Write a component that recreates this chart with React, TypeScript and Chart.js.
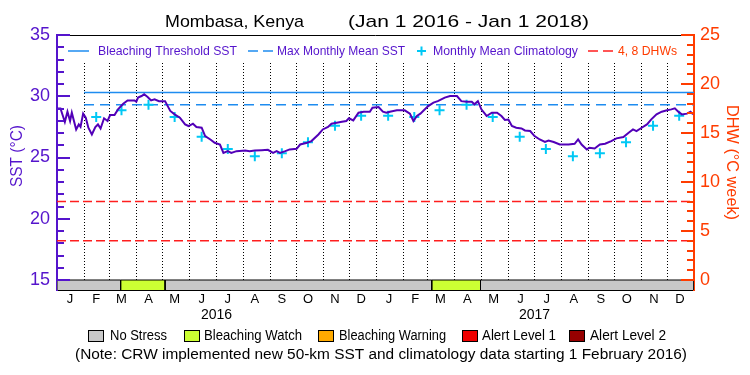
import React, { useEffect, useRef } from "react";
import { Chart, registerables } from "chart.js";

Chart.register(...registerables);

// ---------------- data ----------------
const titleLeft = "Mombasa, Kenya";
const titleRight = "(Jan 1 2016 - Jan 1 2018)";

const monthLabels = ["J", "F", "M", "A", "M", "J", "J", "A", "S", "O", "N", "D", "J", "F", "M", "A", "M", "J", "J", "A", "S", "O", "N", "D"];
const monthMidDays = [15, 45, 74, 105, 135, 166, 196, 227, 258, 288, 319, 349, 381, 411, 440, 471, 501, 532, 562, 593, 624, 654, 685, 715];
const monthStartDays = [0, 31, 60, 91, 121, 152, 182, 213, 244, 274, 305, 335, 366, 397, 425, 456, 486, 517, 547, 578, 609, 639, 670, 700, 731];
const yearLabels = ["2016", "2017"];
const yearMidDays = [183, 548];

// daily SST (days since Jan 1 2016)
const sstDays = [0, 4, 9, 12, 15, 17, 22, 25, 27, 30, 33, 36, 40, 44, 47, 50, 54, 58, 61, 66, 70, 76, 81, 89, 91, 93, 97, 100, 104, 108, 112, 117, 124, 130, 135, 141, 147, 151, 156, 160, 166, 170, 176, 181, 187, 191, 196, 200, 206, 216, 221, 227, 235, 242, 248, 252, 256, 262, 267, 275, 279, 287, 292, 300, 305, 311, 315, 321, 327, 332, 335, 340, 346, 352, 359, 362, 369, 374, 378, 382, 390, 399, 405, 409, 413, 417, 421, 426, 432, 437, 445, 451, 459, 464, 470, 476, 479, 483, 487, 493, 499, 505, 510, 514, 518, 522, 527, 533, 537, 543, 548, 554, 560, 564, 570, 577, 587, 594, 598, 602, 608, 611, 617, 623, 629, 636, 642, 650, 656, 661, 665, 671, 677, 682, 688, 694, 700, 705, 709, 713, 717, 723, 727, 730];
const sstValues = [29.0, 29.0, 27.9, 28.74, 27.98, 28.66, 27.29, 27.7, 27.5, 28.58, 28.25, 27.43, 26.88, 27.49, 27.7, 27.37, 28.2, 27.98, 28.47, 28.47, 28.93, 29.39, 29.66, 29.66, 29.55, 29.89, 30.02, 30.16, 29.94, 29.66, 29.75, 29.6, 29.6, 28.8, 28.52, 28.25, 27.7, 27.57, 27.76, 27.49, 27.43, 26.75, 26.47, 26.2, 26.06, 25.38, 25.52, 25.38, 25.52, 25.57, 25.52, 25.57, 25.6, 25.63, 25.38, 25.52, 25.38, 25.52, 25.66, 25.71, 26.06, 26.2, 26.34, 26.88, 27.29, 27.49, 27.76, 27.84, 27.92, 27.98, 28.2, 28.03, 28.66, 28.74, 28.74, 29.07, 29.12, 28.74, 28.66, 28.74, 28.85, 28.85, 28.58, 27.98, 28.39, 28.58, 28.85, 29.2, 29.48, 29.6, 29.89, 30.02, 30.02, 29.6, 29.55, 29.55, 29.34, 29.6, 28.93, 28.39, 28.66, 28.66, 28.39, 28.06, 28.1, 27.57, 27.43, 27.37, 27.21, 27.16, 26.75, 26.47, 26.28, 26.38, 26.26, 26.06, 26.06, 26.12, 26.47, 26.06, 25.66, 25.8, 25.74, 26.06, 26.12, 26.34, 26.56, 26.67, 27.02, 27.29, 27.16, 27.43, 27.7, 28.11, 28.52, 28.74, 28.85, 28.93, 29.01, 28.74, 28.52, 28.58, 28.74, 28.52];

const climDays = [15, 45, 74, 105, 135, 166, 196, 227, 258, 288, 319, 349, 380, 410, 439, 470, 500, 531, 561, 592, 623, 653, 684, 714];
const climValues = [null, 28.3, 28.85, 29.3, 28.3, 26.7, 25.7, 25.1, 25.35, 26.25, 27.6, 28.4, 28.4, 28.3, 28.85, 29.3, 28.3, 26.7, 25.7, 25.1, 25.35, 26.25, 27.6, 28.4];

const mmmValue = 29.3;
const thresholdValue = 30.3;
const thresholdDays = [31, 731];
const dhwLevels = [4, 8];
const dhwDays = [0, 731];

const stressStart = [0, 73, 124, 430, 486];
const stressEnd = [73, 124, 430, 486, 731];
const stressLevel = [0, 1, 0, 1, 0];
const stressNames = ["No Stress", "Bleaching Watch", "Bleaching Warning", "Alert Level 1", "Alert Level 2"];

const sstTicks = [15, 20, 25, 30, 35];
const dhwTicks = [0, 5, 10, 15, 20, 25];

const legendNames = ["Bleaching Threshold SST", "Max Monthly Mean SST", "Monthly Mean Climatology", "4, 8 DHWs"];
const leftTitle = "SST (\u00B0C)";
const rightTitle = "DHW (\u00B0C week)";
const noteText = "(Note: CRW implemented new 50-km SST and climatology data starting 1 February 2016)";

// ---------------- styles ----------------
const FONT = "'Liberation Sans', Arial, sans-serif";
const PURPLE = "#5514cc";
const SST_COLOR = "#5200b8";
const ORANGE = "#ff3c00";
const BLUE = "#1e8cf0";
const CYAN = "#00c8f5";
const RED = "#ff1e1e";
const stressColors = ["#c8c8c8", "#ccff33", "#ffaa00", "#ee0000", "#960000"];

const SST_MIN = 15 - 10 / 12.25;
const SST_MAX = 35;
const DHW_MIN = -10 / 9.8;
const DHW_MAX = 25;

function fitText(ctx: CanvasRenderingContext2D, text: string, x: number, y: number, w: number) {
  const m = ctx.measureText(text).width;
  ctx.save();
  ctx.translate(x, y);
  ctx.scale(w / m, 1);
  ctx.textAlign = "left";
  ctx.fillText(text, 0, 0);
  ctx.restore();
}

const decorPlugin = {
  id: "decor",
  beforeDatasetsDraw(chart: any) {
    const { ctx, chartArea, scales } = chart;
    const x = scales.x;
    const y = scales.y;
    ctx.save();
    ctx.strokeStyle = "#000";
    ctx.lineWidth = 1;
    ctx.setLineDash([1, 2]);
    const y0 = chartArea.top + 28;
    const y1 = y.getPixelForValue(15);
    monthStartDays.slice(1, -1).forEach((d) => {
      const px = Math.round(x.getPixelForValue(d)) + 0.5;
      ctx.beginPath();
      ctx.moveTo(px, y0);
      ctx.lineTo(px, y1);
      ctx.stroke();
    });
    ctx.restore();
  },
  afterDatasetsDraw(chart: any) {
    const { ctx, chartArea, scales } = chart;
    const y = scales.y;
    const y2 = scales.y2;
    ctx.save();
    // top frame
    ctx.strokeStyle = "#000";
    ctx.lineWidth = 1;
    ctx.beginPath();
    ctx.moveTo(chartArea.left, chartArea.top + 0.5);
    ctx.lineTo(chartArea.right, chartArea.top + 0.5);
    ctx.stroke();
    // inward ticks left
    ctx.strokeStyle = PURPLE;
    ctx.lineWidth = 2;
    for (let v = 15; v <= 35; v++) {
      const py = Math.round(y.getPixelForValue(v));
      const len = v % 5 === 0 ? 13 : 7;
      ctx.beginPath();
      ctx.moveTo(chartArea.left, py);
      ctx.lineTo(chartArea.left + len, py);
      ctx.stroke();
    }
    // inward ticks right
    ctx.strokeStyle = ORANGE;
    for (let v = 0; v <= 25; v++) {
      const py = Math.round(y2.getPixelForValue(v));
      const len = v % 5 === 0 ? 13 : 7;
      ctx.beginPath();
      ctx.moveTo(chartArea.right, py);
      ctx.lineTo(chartArea.right - len, py);
      ctx.stroke();
    }
    // top legend
    const ly = chartArea.top + 16;
    ctx.textBaseline = "middle";
    ctx.font = `13px ${FONT}`;
    ctx.lineWidth = 1.5;
    ctx.strokeStyle = BLUE;
    ctx.beginPath();
    ctx.moveTo(68, ly);
    ctx.lineTo(89, ly);
    ctx.stroke();
    ctx.fillStyle = PURPLE;
    fitText(ctx, legendNames[0], 98, ly, 139);
    ctx.setLineDash([10, 5]);
    ctx.beginPath();
    ctx.moveTo(248, ly);
    ctx.lineTo(276, ly);
    ctx.stroke();
    ctx.setLineDash([]);
    fitText(ctx, legendNames[1], 277, ly, 128);
    ctx.strokeStyle = CYAN;
    ctx.lineWidth = 2;
    ctx.beginPath();
    ctx.moveTo(417, ly);
    ctx.lineTo(426, ly);
    ctx.moveTo(421.5, ly - 4.5);
    ctx.lineTo(421.5, ly + 4.5);
    ctx.stroke();
    fitText(ctx, legendNames[2], 433, ly, 145);
    ctx.strokeStyle = RED;
    ctx.lineWidth = 1.5;
    ctx.setLineDash([10, 5]);
    ctx.beginPath();
    ctx.moveTo(588, ly);
    ctx.lineTo(614, ly);
    ctx.stroke();
    ctx.setLineDash([]);
    ctx.fillStyle = ORANGE;
    fitText(ctx, legendNames[3], 618, ly, 59);
    ctx.restore();
  },
  afterDraw(chart: any) {
    const { ctx, scales } = chart;
    const x = scales.x;
    ctx.save();
    ctx.textBaseline = "middle";
    // title
    ctx.fillStyle = "#000";
    ctx.font = `17px ${FONT}`;
    fitText(ctx, titleLeft, 165, 22, 139);
    fitText(ctx, titleRight, 348, 22, 241);
    // axis titles
    ctx.font = `16px ${FONT}`;
    ctx.fillStyle = PURPLE;
    ctx.save();
    ctx.translate(18, 156);
    ctx.rotate(-Math.PI / 2);
    fitText(ctx, leftTitle, -31, 0, 62);
    ctx.restore();
    ctx.fillStyle = ORANGE;
    ctx.save();
    ctx.translate(731, 162);
    ctx.rotate(Math.PI / 2);
    fitText(ctx, rightTitle, -57, 0, 115);
    ctx.restore();
    // years
    ctx.fillStyle = "#000";
    ctx.font = `14px ${FONT}`;
    ctx.textAlign = "center";
    yearLabels.forEach((t, i) => {
      ctx.fillText(t, x.getPixelForValue(yearMidDays[i]), 315);
    });
    // bottom legend
    const boxX = [88, 184, 318, 462, 569];
    const txtX = [110, 204, 339, 482, 590];
    const txtW = [57, 98, 107, 74, 76];
    ctx.font = `14px ${FONT}`;
    stressNames.forEach((n, i) => {
      ctx.fillStyle = stressColors[i];
      ctx.fillRect(boxX[i], 330, 16, 12);
      ctx.strokeStyle = "#000";
      ctx.lineWidth = 1;
      ctx.strokeRect(boxX[i] + 0.5, 330.5, 15, 11);
      ctx.fillStyle = "#000";
      fitText(ctx, n, txtX[i], 336, txtW[i]);
    });
    ctx.font = `14px ${FONT}`;
    fitText(ctx, noteText, 75, 355, 612);
    ctx.restore();
  },
};

export default function App() {
  const ref = useRef<HTMLCanvasElement | null>(null);

  useEffect(() => {
    document.body.style.margin = "0";
    const canvas = ref.current;
    if (!canvas) return;

    const stressSets = stressStart.map((s, i) => ({
      type: "line" as const,
      label: "stress" + i,
      data: [
        { x: s, y: SST_MIN },
        { x: s, y: 15 },
        { x: stressEnd[i], y: 15 },
        { x: stressEnd[i], y: SST_MIN },
      ],
      yAxisID: "y",
      borderColor: "#000",
      borderWidth: 1,
      backgroundColor: stressColors[stressLevel[i]],
      fill: "start",
      pointRadius: 0,
      order: 10,
    }));

    const dhwSets = dhwLevels.map((lv) => ({
      type: "line" as const,
      label: lv + " DHW",
      data: dhwDays.map((d) => ({ x: d, y: lv })),
      yAxisID: "y2",
      borderColor: RED,
      borderWidth: 1.5,
      borderDash: [9, 4],
      pointRadius: 0,
      fill: false,
      order: 8,
    }));

    const chart = new Chart(canvas, {
      type: "line",
      data: {
        datasets: [
          {
            label: "SST",
            data: sstDays.map((d, i) => ({ x: d, y: sstValues[i] })),
            yAxisID: "y",
            borderColor: SST_COLOR,
            borderWidth: 2,
            pointRadius: 0,
            fill: false,
            tension: 0,
            order: 0,
          },
          {
            label: "Monthly Mean Climatology",
            data: climDays.map((d, i) => ({ x: d, y: climValues[i] })),
            yAxisID: "y",
            showLine: false,
            pointStyle: "cross",
            pointRadius: 5,
            pointBorderColor: CYAN,
            pointBorderWidth: 2,
            borderColor: CYAN,
            order: 1,
          },
          {
            label: "Bleaching Threshold SST",
            data: thresholdDays.map((d) => ({ x: d, y: thresholdValue })),
            yAxisID: "y",
            borderColor: BLUE,
            borderWidth: 1.5,
            pointRadius: 0,
            fill: false,
            order: 2,
          },
          {
            label: "Max Monthly Mean SST",
            data: thresholdDays.map((d) => ({ x: d, y: mmmValue })),
            yAxisID: "y",
            borderColor: BLUE,
            borderWidth: 1.5,
            borderDash: [10, 6],
            pointRadius: 0,
            fill: false,
            order: 3,
          },
          ...dhwSets,
          ...stressSets,
        ] as any,
      },
      options: {
        animation: false,
        responsive: false,
        devicePixelRatio: 1,
        layout: { padding: { top: 35, left: 0, right: 0, bottom: 0 } },
        plugins: {
          legend: { display: false },
          tooltip: { enabled: false },
          title: { display: false },
        },
        scales: {
          x: {
            type: "linear",
            position: "bottom",
            min: 0,
            max: 731,
            grid: { display: false, drawTicks: false },
            border: { display: true, color: "#000", width: 1 },
            afterBuildTicks: (scale: any) => {
              scale.ticks = monthMidDays.map((v) => ({ value: v }));
            },
            afterFit: (scale: any) => {
              scale.height = 85;
            },
            ticks: {
              autoSkip: false,
              maxRotation: 0,
              minRotation: 0,
              color: "#000",
              padding: 2,
              font: { family: FONT, size: 13 },
              callback: (_v: any, i: number) => monthLabels[i],
            },
          },
          y: {
            type: "linear",
            position: "left",
            min: SST_MIN,
            max: SST_MAX,
            grid: { display: false, drawTicks: false },
            border: { display: true, color: PURPLE, width: 2 },
            afterBuildTicks: (scale: any) => {
              scale.ticks = sstTicks.map((v) => ({ value: v }));
            },
            afterFit: (scale: any) => {
              scale.width = 57;
            },
            ticks: {
              color: PURPLE,
              padding: 7,
              font: { family: FONT, size: 18 },
            },
          },
          y2: {
            type: "linear",
            position: "right",
            min: DHW_MIN,
            max: DHW_MAX,
            grid: { display: false, drawTicks: false },
            border: { display: true, color: ORANGE, width: 2 },
            afterBuildTicks: (scale: any) => {
              scale.ticks = dhwTicks.map((v) => ({ value: v }));
            },
            afterFit: (scale: any) => {
              scale.width = 56;
            },
            ticks: {
              color: ORANGE,
              padding: 6,
              font: { family: FONT, size: 18 },
            },
          },
        },
      } as any,
      plugins: [decorPlugin],
    });

    return () => chart.destroy();
  }, []);

  return (
    <div style={{ width: 750, height: 375, background: "#fff" }}>
      <canvas ref={ref} width={750} height={375} style={{ display: "block" }} />
    </div>
  );
}
